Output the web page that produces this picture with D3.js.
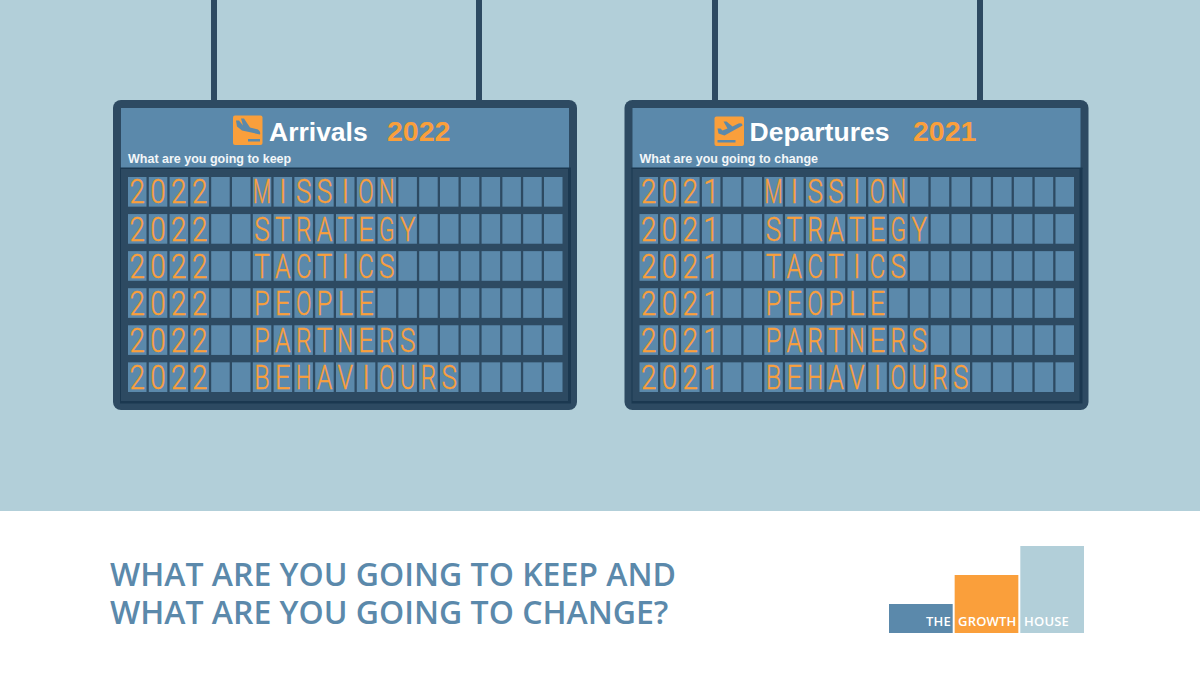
<!DOCTYPE html>
<html>
<head>
<meta charset="utf-8">
<style>
html, body { margin: 0; padding: 0; background: #fff; }
svg { display: block; }
</style>
<script src="https://cdn.jsdelivr.net/npm/d3@7"></script>
</head>
<body>
<svg id="chart" width="1200" height="675"></svg>
<script>
// board contents
const boardTitles = ["Arrivals", "Departures"];
const boardYears = ["2022", "2021"];
const boardPrompts = ["What are you going to keep", "What are you going to change"];
const rowWords = ["MISSION", "STRATEGY", "TACTICS", "PEOPLE", "PARTNERS", "BEHAVIOURS"];
const footerLines = ["WHAT ARE YOU GOING TO KEEP AND", "WHAT ARE YOU GOING TO CHANGE?"];
const logoWords = ["THE", "GROWTH", "HOUSE"];
const logoHeights = [1, 2, 3];

const cols = d3.range(21);

const bg = "#b2cfd9", dark = "#2d4a62", darker = "#1b3850", panel = "#5b89ab", orange = "#fa9f3b";

const svg = d3.select("#chart");

svg.append("rect").attr("width", 1200).attr("height", 511).attr("fill", bg);

// scales for the flap cells, relative to the board's left edge
const xCell = d3.scaleBand().domain(cols).range([15, 449.5]).paddingInner(0.11);
const yRow = d3.scaleBand().domain(rowWords).range([77, 292]).paddingInner(0.2);
const xBoard = d3.scaleOrdinal().domain(boardTitles).range([113, 624.5]);

const boards = svg.selectAll(".board")
    .data(boardTitles)
    .enter()
    .append("g")
    .attr("class", "board")
    .attr("transform", d => `translate(${xBoard(d)},100)`);

// hanging poles
boards.each(function (d, i) {
    const offs = i === 0 ? [98, 363] : [87.5, 352.5];
    d3.select(this).selectAll(".pole")
        .data(offs)
        .enter()
        .append("rect")
        .attr("x", o => o)
        .attr("y", -100)
        .attr("width", 6)
        .attr("height", 102)
        .attr("fill", dark);
});

boards.append("rect").attr("width", 464).attr("height", 310).attr("rx", 8).attr("fill", dark);
boards.append("rect").attr("x", 7).attr("y", 68).attr("width", 451).attr("height", 235.5).attr("fill", darker);
boards.append("rect").attr("x", 8).attr("y", 69).attr("width", 447).attr("height", 232).attr("fill", dark);
boards.append("rect").attr("x", 8).attr("y", 8).attr("width", 448).attr("height", 60).attr("fill", panel);
boards.append("rect").attr("x", 7).attr("y", 67.5).attr("width", 451).attr("height", 1.5).attr("fill", darker);

boards.each(function (d, i) {
    const g = d3.select(this);
    const ix = i === 0 ? 120 : 90;
    const iy = i === 0 ? 15.5 : 16.5;
    const icon = g.append("g").attr("transform", `translate(${ix},${iy})`);
    icon.append("rect").attr("width", 29.5).attr("height", 29.5).attr("rx", 2).attr("fill", orange);
    const plane = i === 0
        ? "M3 5 L6 5 L10 10 L8 3 L11 3 L17 12 L25 14 Q28 16 27 19 L9 15 L4 11 Z"
        : "M4 17 L3 12 L6 12 L8 14 L13 12 L9 5 L12 5 L18 10 L24 7 Q28 6 28 9 L10 19 Z";
    icon.append("path").attr("d", plane).attr("fill", panel);
    icon.append("rect").attr("x", i === 0 ? 15 : 3).attr("y", 23.5).attr("width", i === 0 ? 12 : 18).attr("height", 2.5).attr("fill", panel);

    g.append("text")
        .attr("x", i === 0 ? 156 : 125)
        .attr("y", 41)
        .attr("fill", "#fff")
        .attr("font-family", "'Liberation Sans', sans-serif")
        .attr("font-weight", 700)
        .attr("font-size", 26.5)
        .text(d);

    g.append("text")
        .attr("x", i === 0 ? 274 : 288.5)
        .attr("y", 41)
        .attr("fill", orange)
        .attr("font-family", "'Liberation Sans', sans-serif")
        .attr("font-weight", 700)
        .attr("font-size", 28.5)
        .text(boardYears[i]);

    g.append("text")
        .attr("x", 15)
        .attr("y", 63)
        .attr("fill", "#f2f6f8")
        .attr("font-family", "'Liberation Sans', sans-serif")
        .attr("font-weight", 700)
        .attr("font-size", 12.5)
        .text(boardPrompts[i]);

    // flaps, one row per word
    rowWords.forEach(word => {
        const line = boardYears[i] + "  " + word;
        cols.forEach(c => {
            const x = xCell(c), y = yRow(word);
            g.append("rect")
                .attr("x", x)
                .attr("y", y)
                .attr("width", xCell.bandwidth())
                .attr("height", yRow.bandwidth())
                .attr("fill", panel);
            const ch = line[c];
            if (ch && ch !== " ") {
                const t = g.append("text")
                    .attr("text-anchor", "middle")
                    .attr("fill", orange)
                    .attr("stroke", orange)
                    .attr("stroke-width", 0.25)
                    .attr("font-family", "Roboto, sans-serif")
                    .attr("font-weight", 300)
                    .attr("font-size", 26)
                    .text(ch);
                // every letter is stretched to about the same width, like the flap font
                const narrow = ch === "I" || ch === "1";
                const target = ch === "M" ? 18.5 : 15.5;
                const sx = narrow ? 1.1 : target / t.node().getComputedTextLength();
                t.attr("transform", `translate(${x + xCell.bandwidth() / 2},${y + yRow.bandwidth() - 3.2}) scale(${sx},1.27)`);
            }
        });
    });
});

// footer heading
const foot = svg.append("text")
    .attr("fill", panel)
    .attr("font-family", "'Open Sans', sans-serif")
    .attr("font-weight", 600)
    .attr("font-size", 32);

foot.selectAll("tspan")
    .data(footerLines)
    .enter()
    .append("tspan")
    .attr("x", 110)
    .attr("y", (d, i) => 586 + i * 38)
    .text(d => d);

// logo blocks grow like a small bar chart
const xLogo = d3.scaleBand().domain(logoWords).range([889, 1084]).paddingInner(0.03);
const yLogo = d3.scaleLinear().domain([0, 3]).range([633, 546]);
const logoColors = [panel, orange, bg];

svg.selectAll(".logo")
    .data(logoWords)
    .enter()
    .append("rect")
    .attr("x", d => xLogo(d))
    .attr("y", (d, i) => yLogo(logoHeights[i]))
    .attr("width", xLogo.bandwidth())
    .attr("height", (d, i) => 633 - yLogo(logoHeights[i]))
    .attr("fill", (d, i) => logoColors[i]);

svg.selectAll(".logoText")
    .data(logoWords)
    .enter()
    .append("text")
    .attr("x", (d, i) => [951, 958, 1024][i])
    .attr("y", 626)
    .attr("text-anchor", (d, i) => (i === 0 ? "end" : "start"))
    .attr("fill", "#fff")
    .attr("font-family", "'Open Sans', sans-serif")
    .attr("font-weight", 600)
    .attr("font-size", 13)
    .attr("letter-spacing", 0.2)
    .text(d => d);
</script>
</body>
</html>
